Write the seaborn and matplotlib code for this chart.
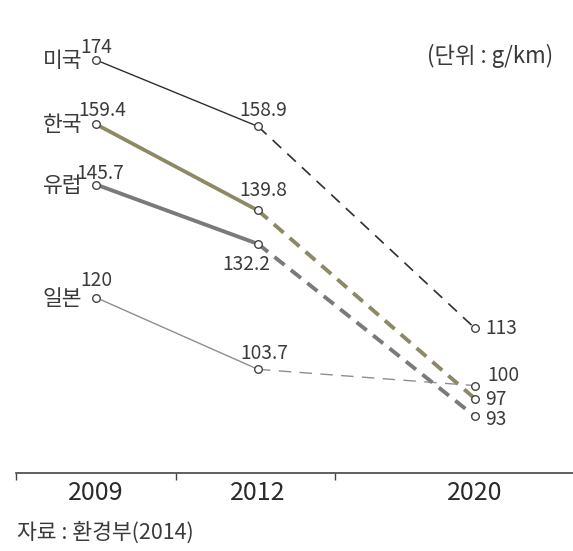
import matplotlib
matplotlib.use("Agg")
import matplotlib.pyplot as plt
import seaborn as sns
import pandas as pd

# Average CO2 emission standards for passenger cars (g/km)
years = ["2009", "2012", "2020"]
x_pos = [0.0, 1.0, 2.34]          # spacing of the three years along the axis
countries = ["미국", "한국", "유럽", "일본"]
usa = [174, 158.9, 113]
korea = [159.4, 139.8, 97]
europe = [145.7, 132.2, 93]
japan = [120, 103.7, 100]
value_labels = {
    "미국": ["174", "158.9", "113"],
    "한국": ["159.4", "139.8", "97"],
    "유럽": ["145.7", "132.2", "93"],
    "일본": ["120", "103.7", "100"],
}
unit_text = "(단위 : g/km)"
source_text = "자료 : 환경부(2014)"

sns.set_theme(style="white")
plt.rcParams["font.family"] = ["Noto Sans CJK KR", "DejaVu Sans"]

DPI = 100
W, H = 573, 551
fig = plt.figure(figsize=(W / DPI, H / DPI), dpi=DPI)
fig.patch.set_facecolor("white")

# axes spans from x=16px to the right edge, bottom spine at y=473px
ax = fig.add_axes([16 / W, 78 / H, 1 - 16 / W, 1 - 78 / H])
ax.set_facecolor("white")

PX_PER_X = 162.0
PX_PER_V = 4.4
x0_px = 96
ax.set_xlim(-(x0_px - 16) / PX_PER_X, (W - x0_px) / PX_PER_X)
ax.set_ylim(174 - 413 / PX_PER_V, 174 + 60 / PX_PER_V)

styles = {
    "미국": dict(color="#2e2e2e", lw=1.0, dlw=1.2, dash=(7, 5)),
    "한국": dict(color="#8c8964", lw=2.7, dlw=2.8, dash=(3.3, 2.1)),
    "유럽": dict(color="#7a7a7a", lw=2.8, dlw=2.8, dash=(3.3, 2.1)),
    "일본": dict(color="#8e8e8e", lw=1.0, dlw=1.0, dash=(9, 6)),
}
series = {"미국": usa, "한국": korea, "유럽": europe, "일본": japan}

rows = []
for c in countries:
    for xp, yr, v in zip(x_pos, years, series[c]):
        rows.append({"country": c, "x": xp, "year": yr, "value": v})
df = pd.DataFrame(rows)

draw_order = ["일본", "유럽", "한국", "미국"]
for c in draw_order:
    st = styles[c]
    d = df[df.country == c]
    solid = d[d.year.isin(["2009", "2012"])]
    dashed = d[d.year.isin(["2012", "2020"])]
    sns.lineplot(data=solid, x="x", y="value", ax=ax, color=st["color"],
                 lw=st["lw"], sort=False, legend=False, zorder=2)
    sns.lineplot(data=dashed, x="x", y="value", ax=ax, color=st["color"],
                 lw=st["dlw"], dashes=False, sort=False, legend=False, zorder=2,
                 linestyle=(0, st["dash"]))

sns.scatterplot(data=df, x="x", y="value", ax=ax, s=30, marker="o",
                facecolor="white", edgecolor="#444444", linewidth=1.0,
                zorder=4, legend=False)

TXT = "#3a3a3a"
P = 72 / DPI  # pixel -> point
FS = 13.8

# offsets (px) for the value labels at each year: (dx, dy, ha, va)
offsets = {
    "미국": [(0, 7, "center", "baseline"), (5, 10, "center", "baseline"), (10, 0, "left", "center")],
    "한국": [(6, 8, "center", "baseline"), (5, 14, "center", "baseline"), (10, -1, "left", "center")],
    "유럽": [(4, 6, "center", "baseline"), (-12, -10, "center", "top"), (10, -3, "left", "center")],
    "일본": [(0, 12, "center", "baseline"), (6, 10, "center", "baseline"), (12, 10, "left", "center")],
}
for c in countries:
    vals = series[c]
    for i, (xp, v) in enumerate(zip(x_pos, vals)):
        dx, dy, ha, va = offsets[c][i]
        ax.annotate(value_labels[c][i], xy=(xp, v), xytext=(dx * P, dy * P),
                    textcoords="offset points", ha=ha, va=va, fontsize=FS,
                    color=TXT, zorder=5)
    # country name to the left of the 2009 point
    ax.annotate(c, xy=(x_pos[0], vals[0]), xytext=(-14 * P, -1 * P),
                textcoords="offset points", ha="right", va="center",
                fontsize=15.5, color=TXT, zorder=5)

# unit note at top right
fig.text(553 / W, 1 - 56 / H, unit_text, ha="right", va="center",
         fontsize=16, color=TXT)

# x axis: only a bottom line with small ticks at the group boundaries
for side in ["left", "right", "top"]:
    ax.spines[side].set_visible(False)
ax.spines["bottom"].set_color("#444444")
ax.spines["bottom"].set_linewidth(1.2)
ax.set_yticks([])
ax.set_ylabel("")
ax.set_xlabel("")
boundary_px = [16, 176, 335]
ax.set_xticks([(b - x0_px) / PX_PER_X for b in boundary_px], minor=True)
ax.tick_params(axis="x", which="minor", direction="out", length=5,
               width=1.0, color="#444444", bottom=True)
ax.set_xticks(x_pos)
ax.set_xticklabels(years, fontsize=18, color="#2a2a2a")
ax.tick_params(axis="x", which="major", length=0, pad=5)

# source line
fig.text(17 / W, 1 - 533 / H, source_text, ha="left", va="center",
         fontsize=15.5, color=TXT)

fig.savefig("out.png", dpi=DPI, facecolor="white")
